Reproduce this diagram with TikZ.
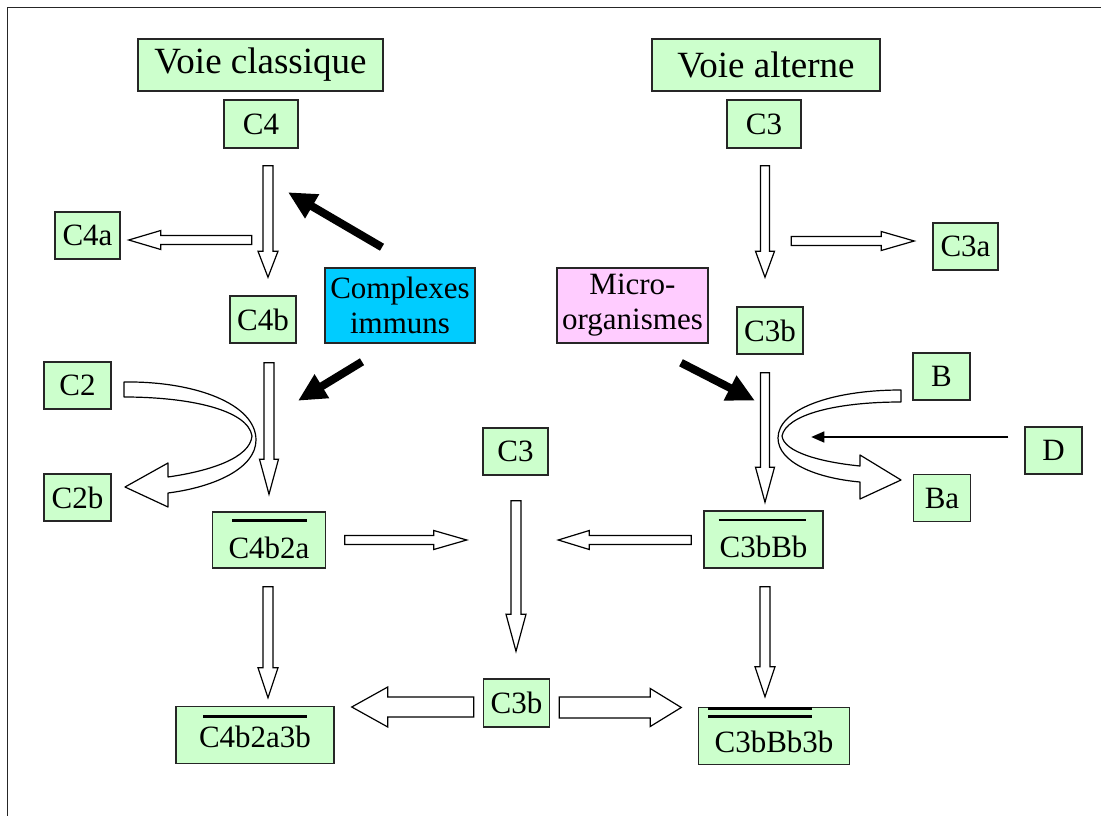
\documentclass[tikz,border=0pt]{standalone}
\usepackage{fontspec}
\setmainfont{Liberation Serif}
\usetikzlibrary{calc,arrows.meta}

\definecolor{boxgreen}{HTML}{CCFFCC}
\definecolor{boxcyan}{HTML}{00CCFF}
\definecolor{boxpink}{HTML}{FFCCFF}

\tikzset{
  box/.style={draw=black!85, line width=1.5pt, fill=boxgreen, inner sep=0pt,
    font=\fontsize{31}{35}\selectfont, align=center},
  title/.style={box, font=\fontsize{37}{40}\selectfont},
  sz/.style 2 args={minimum width=#1pt, minimum height=#2pt},
  blockarrow/.style={draw=black, fill=white, line width=1.2pt, line join=miter},
  push/.style={line width=8pt, -{Triangle[length=28pt,width=26pt]}},
  thinarrow/.style={line width=1.5pt, -{Triangle[length=13pt,width=11pt]}},
  ovl/.style={line width=3pt},
  frame/.style={line width=1.5pt, black!85}
}

% hollow block arrow from #1 to #2; shaft half width #3, head half width #4, head length #5
\newcommand\blockarr[5]{%
  \path let \p1=(#1), \p2=(#2),
    \n1={atan2((\y2)-(\y1),(\x2)-(\x1))}, \n2={veclen((\x2)-(\x1),(\y2)-(\y1))}
    in \pgfextra{\xdef\baAng{\n1}\xdef\baLen{\n2}\xdef\baX{\x1}\xdef\baY{\y1}};
  \draw[blockarrow, shift={(\baX,\baY)}, rotate=\baAng]
    (0,-#3) -- ({\baLen-#5},-#3) -- ({\baLen-#5},-#4) -- (\baLen,0)
    -- ({\baLen-#5},#4) -- ({\baLen-#5},#3) -- (0,#3) -- cycle;
}

\begin{document}
\begin{tikzpicture}[x=1pt,y=-1pt]
\useasboundingbox (0,0) rectangle (1101,816);
\draw[frame] (7.5,818) -- (7.5,7.5) -- (1103,7.5);

% titles
\node[title, sz={245}{52}] (vc) at (260.5,65) {Voie classique};
\node[title, sz={228}{52}] (va) at (766,65) {Voie alterne};

% classical pathway
\node[box, sz={74}{48}] (c4) at (261,124) {C4};
\node[box, sz={65}{47}] (c4a) at (87.5,235.5) {C4a};
\node[box, sz={66}{47}] (c4b) at (263,319.5) {C4b};
\node[box, sz={150}{75}, fill=boxcyan] (ci) at (400,305.5) {Complexes\\immuns};
\node[box, sz={67}{47}] (c2) at (77.5,385.5) {C2};
\node[box, sz={67}{47}] (c2b) at (77.5,497.5) {C2b};
\node[box, sz={113}{56}, text height=36pt, text depth=0pt] (c4b2a) at (269,540) {C4b2a};
\node[box, sz={158}{57}, text height=25pt, text depth=0pt] (c4b2a3b) at (255,735) {C4b2a3b};

% alternative pathway
\node[box, sz={74}{48}] (c3t) at (764,124) {C3};
\node[box, sz={65}{47}] (c3a) at (965.5,246.5) {C3a};
\node[box, sz={151}{75}, fill=boxpink] (mo) at (632.5,305.5) {Micro-\\organismes};
\node[box, sz={66}{47}] (c3br) at (770,330.5) {C3b};
\node[box, sz={57}{47}] (b) at (941.5,376.5) {B};
\node[box, sz={57}{47}] (d) at (1053.5,450.5) {D};
\node[box, sz={57}{47}] (ba) at (942,498) {Ba};
\node[box, sz={119}{57}, text height=36pt, text depth=0pt] (c3bbb) at (763.5,539.5) {C3bBb};
\node[box, sz={151}{57}, text height=33pt, text depth=0pt] (c3bbb3b) at (774,736) {C3bBb3b};

% common C3
\node[box, sz={65}{47}] (c3m) at (515.5,451.5) {C3};
\node[box, sz={66}{48}] (c3bb) at (516.5,703) {C3b};

% overlines
\draw[ovl] ($(c4b2a.north)+(-37,9.7)$) -- ($(c4b2a.north)+(38,9.7)$);
\draw[ovl, line width=2pt] ($(c3bbb.north)+(-45,10)$) -- ($(c3bbb.north)+(42,10)$);
\draw[ovl] ($(c4b2a3b.north)+(-52,11)$) -- ($(c4b2a3b.north)+(52,11)$);
\draw[ovl] ($(c3bbb3b.north)+(-66,1.5)$) -- ($(c3bbb3b.north)+(38,1.5)$);
\draw[ovl] ($(c3bbb3b.north)+(-66,9.5)$) -- ($(c3bbb3b.north)+(38,9.5)$);

% hollow block arrows
\blockarr{$(c4.south)+(7,17)$}{$(c4b.north)+(5,-18)$}{5}{10}{26}
\blockarr{$(c4a.east)+(131,4.5)$}{$(c4a.east)+(8,4.5)$}{4.5}{9.5}{32}
\blockarr{$(c4b.south)+(6,19)$}{$(c4b2a.north)+(0,-17)$}{5}{9.5}{35}
\blockarr{$(c3t.south)+(1,17)$}{$(c3br.north)+(-5,-29)$}{4.5}{9.5}{26}
\blockarr{$(c3a.west)+(-141,-5.5)$}{$(c3a.west)+(-18,-5.5)$}{4.5}{9.5}{33}
\blockarr{$(c3br.south)+(-5,18)$}{$(c3bbb.north)+(1.5,-8)$}{4.5}{9.5}{35}
\blockarr{$(c4b2a.east)+(18.5,0)$}{$(c4b2a.east)+(140.5,0)$}{4.5}{9.5}{33}
\blockarr{$(c3bbb.west)+(-12,0.5)$}{$(c3bbb.west)+(-145,0.5)$}{4.5}{9.5}{31}
\blockarr{$(c3m.south)+(0.5,25)$}{$(c3bb.north)+(-0.5,-27)$}{5}{10}{37}
\blockarr{$(c4b2a.south)+(-1,18)$}{$(c4b2a3b.north)+(13,-8)$}{5}{10}{30}
\blockarr{$(c3bbb.south)+(1.5,18)$}{$(c3bbb3b.north)+(-9,-10)$}{5}{10}{30}
\blockarr{$(c3bb.west)+(-9,4)$}{$(c3bb.west)+(-131,4)$}{10}{20}{36}
\blockarr{$(c3bb.east)+(9,4.5)$}{$(c3bb.east)+(131,4.5)$}{10.5}{19}{31}

% curved ribbon arrow C2 -> C2b
\draw[blockarrow, line join=round]
  (124,382) .. controls (195,381) and (256,404) .. (256,440)
  .. controls (256,468) and (215,487) .. (168,493)
  -- (168,507) -- (125,487) -- (168,463) -- (168,477)
  .. controls (210,471) and (250,458) .. (252,436)
  .. controls (248,410) and (190,397) .. (124,397) -- cycle;

% curved ribbon arrow B -> Ba
\draw[blockarrow, line join=round]
  (901,390) .. controls (830,390) and (778,410) .. (778,438)
  .. controls (778,462) and (815,478) .. (860,482)
  -- (860,499) -- (901,480) -- (860,455) -- (860,466)
  .. controls (820,462) and (784,452) .. (782,436)
  .. controls (786,415) and (835,402) .. (901,402) -- cycle;

% activators
\draw[push] ($(ci.north)+(-18,-20)$) -- ($(ci.north)+(-112,-75)$);
\draw[push] ($(ci.south)+(-38,18)$) -- ($(ci.south)+(-102,57)$);
\draw[push] ($(mo.south)+(48.5,19)$) -- ($(mo.south)+(122.5,57)$);
\draw[thinarrow] ($(d.west)+(-16,-13.5)$) -- ($(d.west)+(-213,-13.5)$);
\end{tikzpicture}
\end{document}
